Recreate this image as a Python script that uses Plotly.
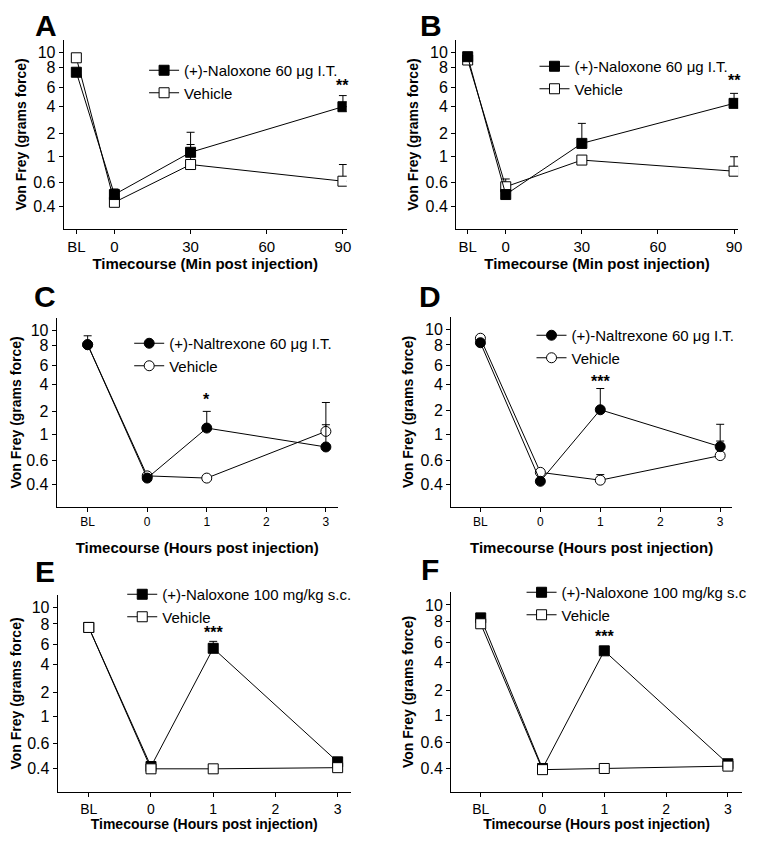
import plotly.graph_objects as go

# y values are in von Frey log units; tick labels give the matching grams force
y_tickvals = [3.61, 3.83, 4.06, 4.27, 4.51, 4.68, 4.86, 5.00]
y_ticktext = ['0.4', '0.6', '1', '2', '4', '6', '8', '10']

min_x = [-15, 0, 30, 90]
min_tickvals = [-15, 0, 30, 60, 90]
min_ticktext = ['BL', '0', '30', '60', '90']
hr_x = [-1, 0, 1, 3]
hr_tickvals = [-1, 0, 1, 2, 3]
hr_ticktext = ['BL', '0', '1', '2', '3']

# A
a_drug = [4.82, 3.72, 4.10, 4.51]
a_drug_err = [0, 0.05, 0.18, 0.10]
a_veh = [4.95, 3.65, 3.99, 3.84]
a_veh_err = [0, 0, 0.18, 0.15]
# B
b_drug = [4.96, 3.72, 4.18, 4.54]
b_drug_err = [0, 0, 0.18, 0.09]
b_veh = [4.93, 3.79, 4.03, 3.93]
b_veh_err = [0, 0.07, 0, 0.13]
# C
c_drug = [4.87, 3.67, 4.12, 3.95]
c_drug_err = [0.08, 0, 0.15, 0.20]
c_veh = [4.87, 3.69, 3.67, 4.09]
c_veh_err = [0, 0, 0, 0.26]
# D
d_drug = [4.88, 3.64, 4.28, 3.95]
d_drug_err = [0, 0, 0.19, 0.20]
d_veh = [4.92, 3.72, 3.65, 3.87]
d_veh_err = [0, 0, 0.05, 0.13]
# E
e_drug = [4.83, 3.63, 4.65, 3.67]
e_drug_err = [0, 0, 0.06, 0]
e_veh = [4.83, 3.61, 3.61, 3.62]
e_veh_err = [0, 0, 0, 0]
# F
f_drug = [4.89, 3.61, 4.61, 3.65]
f_drug_err = [0, 0, 0, 0]
f_veh = [4.84, 3.60, 3.61, 3.63]
f_veh_err = [0, 0, 0, 0]

drug_names = ['(+)-Naloxone 60 \u03bcg I.T.', '(+)-Naloxone 60 \u03bcg I.T.',
              '(+)-Naltrexone 60 \u03bcg I.T.', '(+)-Naltrexone 60 \u03bcg I.T.',
              '(+)-Naloxone 100 mg/kg s.c.', '(+)-Naloxone 100 mg/kg s.c']
star_text = ['**', '**', '*', '***', '***', '***']
star_x = [90, 90, 1, 1, 1, 1]
star_y = [4.70, 4.75, 4.38, 4.53, 4.79, 4.73]

# the page body has an 8px margin, so the figure sits at (8, 8)
OFF = 8
W, H = 771 - 2 * OFF, 842 - 2 * OFF - 2
FONT = 'Liberation Sans, Arial, sans-serif'


def px(x):
    return (x - OFF) / W


def py(y):
    return 1 - (y - OFF) / H


panels = [
    # letter, x, drug, drug_err, veh, veh_err, symbol, page box (l, r, t, b), xrange, xticks, xtitle
    ('A', min_x, a_drug, a_drug_err, a_veh, a_veh_err, 'square', (64, 349, 40, 229), [-20, 91.5],
     (min_tickvals, min_ticktext), 'Timecourse (Min post injection)'),
    ('B', min_x, b_drug, b_drug_err, b_veh, b_veh_err, 'square', (459, 743, 40, 229), [-19.6, 91.6],
     (min_tickvals, min_ticktext), 'Timecourse (Min post injection)'),
    ('C', hr_x, c_drug, c_drug_err, c_veh, c_veh_err, 'circle', (57, 340, 318, 507), [-1.52, 3.2],
     (hr_tickvals, hr_ticktext), 'Timecourse (Hours post injection)'),
    ('D', hr_x, d_drug, d_drug_err, d_veh, d_veh_err, 'circle', (454, 737, 317, 507), [-1.49, 3.2],
     (hr_tickvals, hr_ticktext), 'Timecourse (Hours post injection)'),
    ('E', hr_x, e_drug, e_drug_err, e_veh, e_veh_err, 'square', (58, 353, 595, 792), [-1.5, 3.21],
     (hr_tickvals, hr_ticktext), 'Timecourse (Hours post injection)'),
    ('F', hr_x, f_drug, f_drug_err, f_veh, f_veh_err, 'square', (454, 747, 592, 792), [-1.48, 3.23],
     (hr_tickvals, hr_ticktext), 'Timecourse (Hours post injection)'),
]

legend_pos = [(145, 54), (538, 50), (130, 327), (535, 319), (123, 578), (525, 576)]
letter_pos = [(46, 26), (434, 26), (45, 296), (433, 296), (45, 571), (433, 569)]
xtick_size = [15, 15, 12, 12, 14, 14]
xtitle_size = [15, 15, 15, 15, 14, 14]
xtitle_standoff = [4, 4, 14, 14, 1, 1]

fig = go.Figure()
layout = dict(width=W, height=H, margin=dict(l=0, r=0, t=0, b=0),
              paper_bgcolor='white', plot_bgcolor='white',
              font=dict(family=FONT, color='black'), annotations=[])

for i, (letter, xs, drug, drug_err, veh, veh_err, sym, box, xr, xt, xtitle) in enumerate(panels):
    n = '' if i == 0 else str(i + 1)
    leg = 'legend' + n
    l, r, t, b = box

    def trace(vals, err, name, filled, rank):
        return go.Scatter(
            x=xs, y=vals, name=name, mode='lines+markers',
            xaxis='x' + n, yaxis='y' + n, legend=leg, legendrank=rank,
            line=dict(color='black', width=1),
            marker=dict(symbol=sym, size=10, color='black' if filled else 'white',
                        line=dict(color='black', width=1)),
            error_y=dict(type='data', symmetric=False, array=err, arrayminus=[0] * len(err),
                         color='black', thickness=1, width=4),
        )

    t_drug = trace(drug, drug_err, drug_names[i], True, 1)
    t_veh = trace(veh, veh_err, 'Vehicle', False, 2)
    if i < 4:
        fig.add_trace(t_veh)
        fig.add_trace(t_drug)
    else:
        fig.add_trace(t_drug)
        fig.add_trace(t_veh)

    layout['xaxis' + n] = dict(
        domain=[px(l), px(r)], range=xr, anchor='y' + n,
        tickvals=xt[0], ticktext=xt[1], tickfont=dict(size=xtick_size[i]),
        showline=True, linecolor='black', linewidth=1, ticks='outside', ticklen=4,
        tickcolor='black', showgrid=False, zeroline=False,
        title=dict(text='<b>' + xtitle + '</b>', font=dict(size=xtitle_size[i]),
                   standoff=xtitle_standoff[i]),
    )
    layout['yaxis' + n] = dict(
        domain=[py(b), py(t)], range=[3.41, 5.11], anchor='x' + n,
        tickvals=y_tickvals, ticktext=y_ticktext, tickfont=dict(size=16),
        showline=True, linecolor='black', linewidth=1, ticks='outside', ticklen=4,
        tickcolor='black', showgrid=False, zeroline=False,
        title=dict(text='<b>Von Frey (grams force)</b>', font=dict(size=14), standoff=3),
    )
    lx, ly = legend_pos[i]
    layout[leg] = dict(x=px(lx), y=py(ly), xanchor='left', yanchor='top',
                       bgcolor='rgba(0,0,0,0)', font=dict(size=15), itemwidth=30,
                       tracegroupgap=0)
    layout['annotations'].append(dict(
        x=star_x[i], y=star_y[i], xref='x' + n, yref='y' + n, text='<b>' + star_text[i] + '</b>',
        showarrow=False, font=dict(size=16), yanchor='middle'))
    lx, ly = letter_pos[i]
    layout['annotations'].append(dict(
        x=px(lx), y=py(ly), xref='paper', yref='paper', text='<b>' + letter + '</b>',
        showarrow=False, font=dict(size=30), xanchor='center', yanchor='middle'))

fig.update_layout(**layout)
fig.write_html('out.html')
